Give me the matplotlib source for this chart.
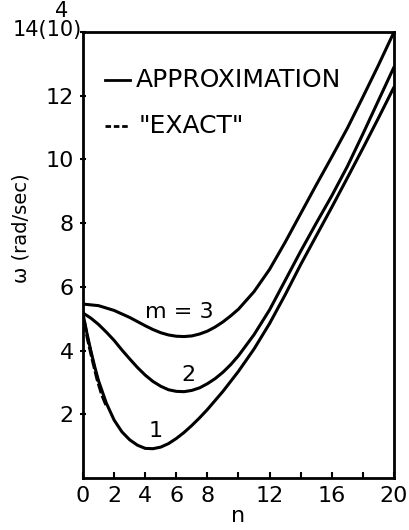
import matplotlib
matplotlib.use("Agg")
import matplotlib.pyplot as plt

plt.rcParams['font.family'] = ['DejaVu Sans']

# frequencies (units of 10^4 rad/sec) against wave number n for each m
n_m3 = [0, 1, 2, 3, 4, 4.5, 5, 5.5, 6, 6.5, 7, 7.5, 8, 8.5, 9, 9.5, 10,
        11, 12, 13, 14, 15, 16, 17, 18, 19, 20]
omega_m3 = [5.46, 5.41, 5.26, 5.04, 4.78, 4.66, 4.56, 4.49, 4.45, 4.44, 4.46, 4.52,
            4.61, 4.74, 4.90, 5.09, 5.30, 5.85, 6.55, 7.40, 8.30, 9.20, 10.08,
            10.98, 11.96, 12.96, 14.0]

n_m2 = [0, 0.5, 1, 1.5, 2, 2.5, 3, 3.5, 4, 4.5, 5, 5.5, 6, 6.5, 7, 7.5, 8, 8.5,
        9, 9.5, 10, 11, 12, 13, 14, 15, 16, 17, 18, 19, 20]
omega_m2 = [5.18, 5.02, 4.82, 4.58, 4.32, 4.02, 3.74, 3.47, 3.23, 3.03, 2.88, 2.77,
            2.72, 2.71, 2.75, 2.83, 2.96, 3.12, 3.32, 3.56, 3.84, 4.50, 5.28, 6.20,
            7.12, 8.00, 8.86, 9.78, 10.80, 11.85, 12.90]

n_m1 = [0, 0.25, 0.5, 0.75, 1, 1.5, 2, 2.5, 3, 3.5, 4, 4.5, 5, 5.5, 6, 6.5, 7,
        7.5, 8, 9, 10, 11, 12, 13, 14, 15, 16, 17, 18, 19, 20]
omega_m1 = [5.15, 4.55, 4.00, 3.50, 3.05, 2.35, 1.82, 1.45, 1.20, 1.03, 0.93, 0.92,
            0.97, 1.08, 1.24, 1.43, 1.65, 1.89, 2.15, 2.72, 3.35, 4.05, 4.85, 5.75,
            6.70, 7.60, 8.50, 9.42, 10.35, 11.30, 12.27]

# "exact" solution near n = 0
n_exact = [0.08, 0.3, 0.6, 0.9, 1.2, 1.5]
omega_exact = [4.90, 4.36, 3.72, 3.12, 2.63, 2.27]

x_ticks = [0, 2, 4, 6, 8, 10, 12, 14, 16, 18, 20]
x_labels = ['0', '2', '4', '6', '8', '', '12', '', '16', '', '20']
y_ticks = [2, 4, 6, 8, 10, 12, 14]
y_labels = ['2', '4', '6', '8', '10', '12', '']

fig = plt.figure(figsize=(4.1, 5.3), dpi=100)
ax = fig.add_axes([83/410, 1-478/530, (394-83)/410, (478-32)/530])

lw = 2.2
for n, om in ((n_m3, omega_m3), (n_m2, omega_m2), (n_m1, omega_m1)):
    ax.plot(n, om, color='black', lw=lw, solid_capstyle='round', solid_joinstyle='round')
ax.plot(n_exact, omega_exact, color='black', lw=2.4, ls=(0, (3, 0.8)))

ax.set_xlim(0, 20)
ax.set_ylim(0, 14)
ax.set_xticks(x_ticks)
ax.set_xticklabels(x_labels)
ax.set_yticks(y_ticks)
ax.set_yticklabels(y_labels)

fs = 16
ax.tick_params(axis='x', direction='in', length=4, width=1.5, labelsize=fs, pad=6)
ax.tick_params(axis='y', direction='inout', length=5, width=1.5, labelsize=fs, pad=4)
for s in ax.spines.values():
    s.set_linewidth(2)

ax.set_xlabel('n', fontsize=fs, labelpad=0)
ax.set_ylabel('ω (rad/sec)', fontsize=14)
ax.yaxis.set_label_coords(-0.17, 0.56)

# scale factor on the top tick
ax.text(-0.1, 14.06, '14(10)', ha='right', va='center', fontsize=15)
ax.text(-1.4, 14.66, '4', ha='center', va='center', fontsize=15)

# curve labels
ax.text(6.2, 5.2, 'm = 3', ha='center', va='center', fontsize=fs)
ax.text(6.75, 3.23, '2', ha='center', va='center', fontsize=fs)
ax.text(4.7, 1.47, '1', ha='center', va='center', fontsize=fs)

# hand-drawn key
ax.plot([1.4, 3.0], [12.5, 12.5], color='black', lw=2)
ax.text(3.4, 12.5, 'APPROXIMATION', ha='left', va='center', fontsize=18)
ax.plot([1.4, 3.0], [11.05, 11.05], color='black', lw=2, ls=(0, (2, 1)))
ax.text(3.6, 11.05, '"EXACT"', ha='left', va='center', fontsize=18)

fig.savefig('out.png', dpi=100)
